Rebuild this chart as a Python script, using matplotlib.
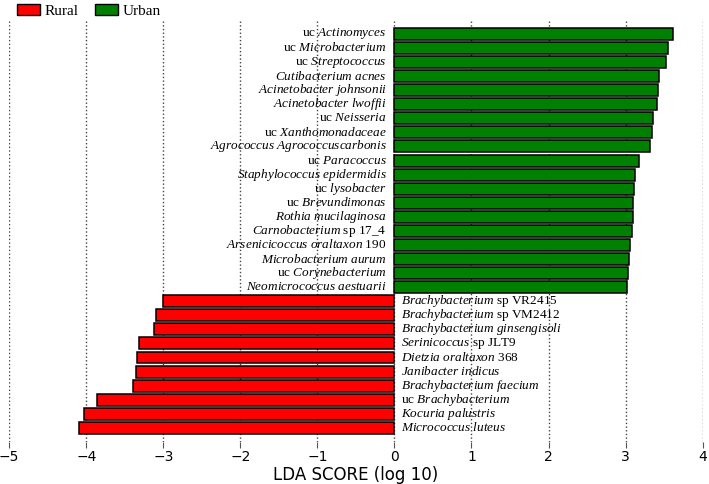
import matplotlib
matplotlib.use("Agg")
import matplotlib.pyplot as plt
from matplotlib.patches import Patch

plt.rcParams["mathtext.fontset"] = "custom"
plt.rcParams["mathtext.rm"] = "Liberation Serif"
plt.rcParams["mathtext.it"] = "Liberation Serif:italic"

# (plain prefix, italic part, plain suffix), top to bottom
urban_names = [
    ("uc ", "Actinomyces", ""),
    ("uc ", "Microbacterium", ""),
    ("uc ", "Streptococcus", ""),
    ("", "Cutibacterium acnes", ""),
    ("", "Acinetobacter johnsonii", ""),
    ("", "Acinetobacter lwoffii", ""),
    ("uc ", "Neisseria", ""),
    ("uc ", "Xanthomonadaceae", ""),
    ("", "Agrococcus Agrococcuscarbonis", ""),
    ("uc ", "Paracoccus", ""),
    ("", "Staphylococcus epidermidis", ""),
    ("uc ", "lysobacter", ""),
    ("uc ", "Brevundimonas", ""),
    ("", "Rothia mucilaginosa", ""),
    ("", "Carnobacterium", " sp 17_4"),
    ("", "Arsenicicoccus oraltaxon", " 190"),
    ("", "Microbacterium aurum", ""),
    ("uc ", "Corynebacterium", ""),
    ("", "Neomicrococcus aestuarii", ""),
]
urban_scores = [3.62, 3.55, 3.52, 3.44, 3.42, 3.41, 3.35, 3.34, 3.32, 3.17,
                3.12, 3.11, 3.10, 3.09, 3.08, 3.06, 3.04, 3.03, 3.02]

rural_names = [
    ("", "Brachybacterium", " sp VR2415"),
    ("", "Brachybacterium", " sp VM2412"),
    ("", "Brachybacterium ginsengisoli", ""),
    ("", "Serinicoccus", " sp JLT9"),
    ("", "Dietzia oraltaxon", " 368"),
    ("", "Janibacter indicus", ""),
    ("", "Brachybacterium faecium", ""),
    ("uc ", "Brachybacterium", ""),
    ("", "Kocuria palustris", ""),
    ("", "Micrococcus luteus", ""),
]
rural_scores = [-3.00, -3.09, -3.12, -3.31, -3.34, -3.36, -3.39, -3.86, -4.03, -4.09]

groups = ["Rural", "Urban"]
colors = {"Rural": "#ff0000", "Urban": "#008000"}


def label(parts):
    pre, ital, suf = parts
    return pre + r"$\mathit{" + ital.replace(" ", r"\ ") + "}$" + suf


names = urban_names + rural_names
scores = urban_scores + rural_scores
cls = ["Urban"] * len(urban_names) + ["Rural"] * len(rural_names)
n = len(names)
ypos = [n - 1 - i for i in range(n)]

fig = plt.figure(figsize=(7.09, 4.84), dpi=100)
ax = fig.add_axes([0.013, 0.087, 0.978, 0.872])

ax.barh(ypos, scores, height=0.85, color=[colors[c] for c in cls],
        edgecolor="black", linewidth=1.1, zorder=2)

for y, s, nm in zip(ypos, scores, names):
    if s > 0:
        ax.text(-0.1, y, label(nm), ha="right", va="center",
                fontsize=9.5, family="Liberation Serif", zorder=3)
    else:
        ax.text(0.08, y, label(nm), ha="left", va="center",
                fontsize=9.5, family="Liberation Serif", zorder=3)

ax.set_xlim(-5, 4)
ax.set_ylim(-1.0, n)
ax.set_xticks(range(-5, 5))
ax.set_yticks([])
ax.tick_params(axis="x", labelsize=10, length=4, pad=2, color="#555555")
for sp in ax.spines.values():
    sp.set_visible(False)
ax.grid(axis="x", linestyle=":", color="#444444", linewidth=1, zorder=0)
ax.set_xlabel("LDA SCORE (log 10)", fontsize=12, labelpad=1)

handles = [Patch(facecolor=colors[g], edgecolor="black", label=g) for g in groups]
fig.legend(handles=handles, loc="upper left", bbox_to_anchor=(0.004, 1.02),
           ncol=2, frameon=False, prop={"family": "Liberation Serif", "size": 11},
           handlelength=1.5, handleheight=0.75, columnspacing=1.1, handletextpad=0.3)

fig.savefig("out.png", dpi=100)
